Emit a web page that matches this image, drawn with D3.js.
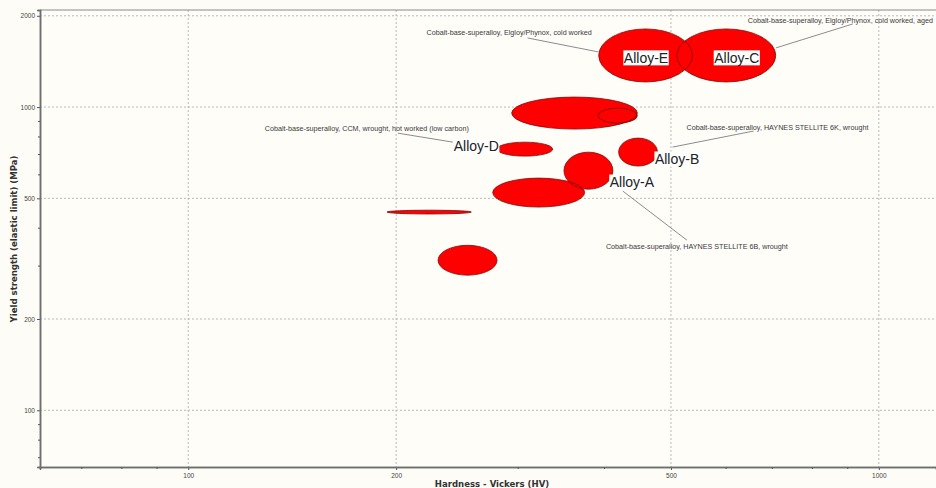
<!DOCTYPE html>
<html>
<head>
<meta charset="utf-8">
<script src="https://cdn.jsdelivr.net/npm/d3@7"></script>
<style>
  html, body { margin: 0; padding: 0; background: #fdfcf7; }
  svg { display: block; }
</style>
</head>
<body>
<svg id="chart" width="936" height="488"></svg>
<script>
// ---------------- data ----------------
const materials = [
  "Cobalt-base-superalloy, Elgloy/Phynox, cold worked",
  "Cobalt-base-superalloy, Elgloy/Phynox, cold worked, aged",
  "Cobalt-base-superalloy (wide range)",
  "Cobalt-base-superalloy (narrow range)",
  "Cobalt-base-superalloy, CCM, wrought, hot worked (low carbon)",
  "Cobalt-base-superalloy, HAYNES STELLITE 6K, wrought",
  "Cobalt-base-superalloy, HAYNES STELLITE 6B, wrought",
  "Cobalt-base-superalloy (medium)",
  "Cobalt-base-superalloy (thin)",
  "Cobalt-base-superalloy (low)"
];
const shortLabels = ["Alloy-E", "Alloy-C", "", "", "Alloy-D", "Alloy-B", "Alloy-A", "", "", ""];
const hardnessMin = [393, 510, 294, 392, 280, 420, 350, 276, 194, 230];
const hardnessMax = [537, 709, 447, 447, 337, 478, 412, 375, 257, 280];
const yieldMin    = [1210, 1210, 846, 885, 689, 639, 536, 468, 444, 279];
const yieldMax    = [1810, 1810, 1079, 992, 766, 790, 710, 583, 457, 350];
const showCallout = [true, true, false, false, true, true, true, false, false, false];

const xMajorTicks = [100, 200, 500, 1000];
const xMinorTicks = [70, 80, 90, 300, 400, 600, 700, 800, 900];
const yMajorTicks = [100, 200, 500, 1000, 2000];
const yMinorTicks = [70, 80, 90, 300, 400, 600, 700, 800, 900];
const xTitle = "Hardness - Vickers (HV)";
const yTitle = "Yield strength (elastic limit) (MPa)";

// ---------------- layout (pixel offsets from bubble centre) ----------------
const calloutLayout = {
  0: { tx: -219, ty: -20,   l1: [-118, -17.5], l2: [-47, -3.5],   lab: [0.5, 2.5] },
  1: { tx: 21.5, ty: -32,   l1: [49.5, -7.5],  l2: [126.5, -31.5], lab: [10.5, 2.5] },
  4: { tx: -260, ty: -18.5, l1: [-127, -16],   l2: [-72, -7],     lab: [-48.5, -3] },
  5: { tx: 48.5, ty: -22.5, l1: [115.5, -21],  l2: [34.5, -5],    lab: [39, 7] },
  6: { tx: 17.5, ty: 78,    l1: [34.5, 20.5],  l2: [98.5, 69.5],  lab: [43.5, 11.5] }
};

const W = 936, H = 488;
const plot = { left: 40, right: 936, top: 10, bottom: 467 };
const BG = "#fdfcf7";

const svg = d3.select("#chart");
svg.append("rect").attr("width", W).attr("height", H).attr("fill", BG);

const x = d3.scaleLog().domain([61, 1210]).range([plot.left, plot.right]);
const y = d3.scaleLog().domain([65, 2090]).range([plot.bottom, plot.top]);

// plot background
svg.append("rect")
  .attr("x", plot.left).attr("y", plot.top)
  .attr("width", plot.right - plot.left).attr("height", plot.bottom - plot.top)
  .attr("fill", "#fefdf8");

// grid
const grid = svg.append("g");
grid.selectAll("line.gx").data(xMajorTicks).join("line")
  .attr("x1", d => x(d)).attr("x2", d => x(d))
  .attr("y1", plot.top).attr("y2", plot.bottom)
  .attr("stroke", "#b8b8b8").attr("stroke-width", 1).attr("stroke-dasharray", "2,2");
grid.selectAll("line.gy").data(yMajorTicks).join("line")
  .attr("y1", d => y(d)).attr("y2", d => y(d))
  .attr("x1", plot.left).attr("x2", plot.right)
  .attr("stroke", "#b8b8b8").attr("stroke-width", 1).attr("stroke-dasharray", "2,2");

// top border
svg.append("line").attr("x1", plot.left).attr("x2", plot.right)
  .attr("y1", plot.top).attr("y2", plot.top)
  .attr("stroke", "#8a8a8a").attr("stroke-width", 1);

// axes
const xAxis = d3.axisBottom(x).tickValues(xMajorTicks).tickFormat(d3.format("d")).tickSize(3).tickPadding(3);
const xAxisMinor = d3.axisBottom(x).tickValues(xMinorTicks).tickFormat("").tickSize(2);
const yAxis = d3.axisLeft(y).tickValues(yMajorTicks).tickFormat(d3.format("d")).tickSize(3).tickPadding(2);
const yAxisMinor = d3.axisLeft(y).tickValues(yMinorTicks).tickFormat("").tickSize(2);

function styleAxis(g) {
  g.select(".domain").attr("stroke", "#6e6e6e").attr("stroke-width", 1.5);
  g.selectAll(".tick line").attr("stroke", "#555");
  g.selectAll(".tick text").attr("fill", "#444")
    .style("font-family", "'Liberation Sans', Arial, sans-serif").style("font-size", "6.5px");
}
svg.append("g").attr("transform", `translate(0,${plot.bottom})`).call(xAxis).call(styleAxis);
svg.append("g").attr("transform", `translate(0,${plot.bottom})`).call(xAxisMinor).call(styleAxis);
svg.append("g").attr("transform", `translate(${plot.left},0)`).call(yAxis).call(styleAxis);
svg.append("g").attr("transform", `translate(${plot.left},0)`).call(yAxisMinor).call(styleAxis);

// axis titles
svg.append("text")
  .attr("x", (436 + 548) / 2).attr("y", 487)
  .attr("text-anchor", "middle")
  .style("font-family", "'DejaVu Sans Condensed', 'Liberation Sans', sans-serif")
  .style("font-weight", "bold").style("font-size", "9.5px").attr("fill", "#333")
  .text(xTitle);
svg.append("text")
  .attr("transform", `translate(17,${(158 + 320) / 2}) rotate(-90)`)
  .attr("text-anchor", "middle")
  .style("font-family", "'DejaVu Sans Condensed', 'Liberation Sans', sans-serif")
  .style("font-weight", "bold").style("font-size", "9.5px").attr("fill", "#333")
  .text(yTitle);

// bubbles
const bubbles = materials.map((m, i) => {
  const x0 = x(hardnessMin[i]), x1 = x(hardnessMax[i]);
  const y0 = y(yieldMax[i]), y1 = y(yieldMin[i]);
  return { i, name: m, label: shortLabels[i], cx: (x0 + x1) / 2, cy: (y0 + y1) / 2,
           rx: (x1 - x0) / 2, ry: (y1 - y0) / 2 };
});

svg.append("clipPath").attr("id", "plotclip").append("rect")
  .attr("x", plot.left).attr("y", plot.top)
  .attr("width", plot.right - plot.left).attr("height", plot.bottom - plot.top);

const gB = svg.append("g").attr("clip-path", "url(#plotclip)");
gB.selectAll("ellipse.fill").data(bubbles).join("ellipse")
  .attr("cx", d => d.cx).attr("cy", d => d.cy).attr("rx", d => d.rx).attr("ry", d => d.ry)
  .attr("fill", "#ff0000");
gB.selectAll("ellipse.edge").data(bubbles).join("ellipse")
  .attr("cx", d => d.cx).attr("cy", d => d.cy).attr("rx", d => d.rx).attr("ry", d => d.ry)
  .attr("fill", "none").attr("stroke", "#7a0c0c").attr("stroke-width", 0.8);

// callouts
const callouts = bubbles.filter(d => showCallout[d.i]);
const gC = svg.append("g").attr("clip-path", "url(#plotclip)");
callouts.forEach(d => {
  const L = calloutLayout[d.i];
  gC.append("line")
    .attr("x1", d.cx + L.l1[0]).attr("y1", d.cy + L.l1[1])
    .attr("x2", d.cx + L.l2[0]).attr("y2", d.cy + L.l2[1])
    .attr("stroke", "#8c8c8c").attr("stroke-width", 1);
  gC.append("text")
    .attr("x", d.cx + L.tx).attr("y", d.cy + L.ty)
    .style("font-family", "'Liberation Sans', Arial, sans-serif").style("font-size", "7.2px")
    .attr("fill", "#3a3a3a")
    .text(d.name);
  const lab = gC.append("g").attr("transform", `translate(${d.cx + L.lab[0]},${d.cy + L.lab[1]})`);
  const rect = lab.append("rect").attr("fill", "#ffffff");
  const t = lab.append("text")
    .attr("text-anchor", "middle").attr("dy", "0.35em")
    .style("font-family", "'Liberation Sans', Arial, sans-serif").style("font-size", "14px")
    .attr("fill", "#222")
    .text(d.label);
  const bb = t.node().getBBox();
  rect.attr("x", bb.x - 0.5).attr("y", bb.y + 0.5).attr("width", bb.width + 1).attr("height", bb.height - 1);
});
</script>
</body>
</html>
